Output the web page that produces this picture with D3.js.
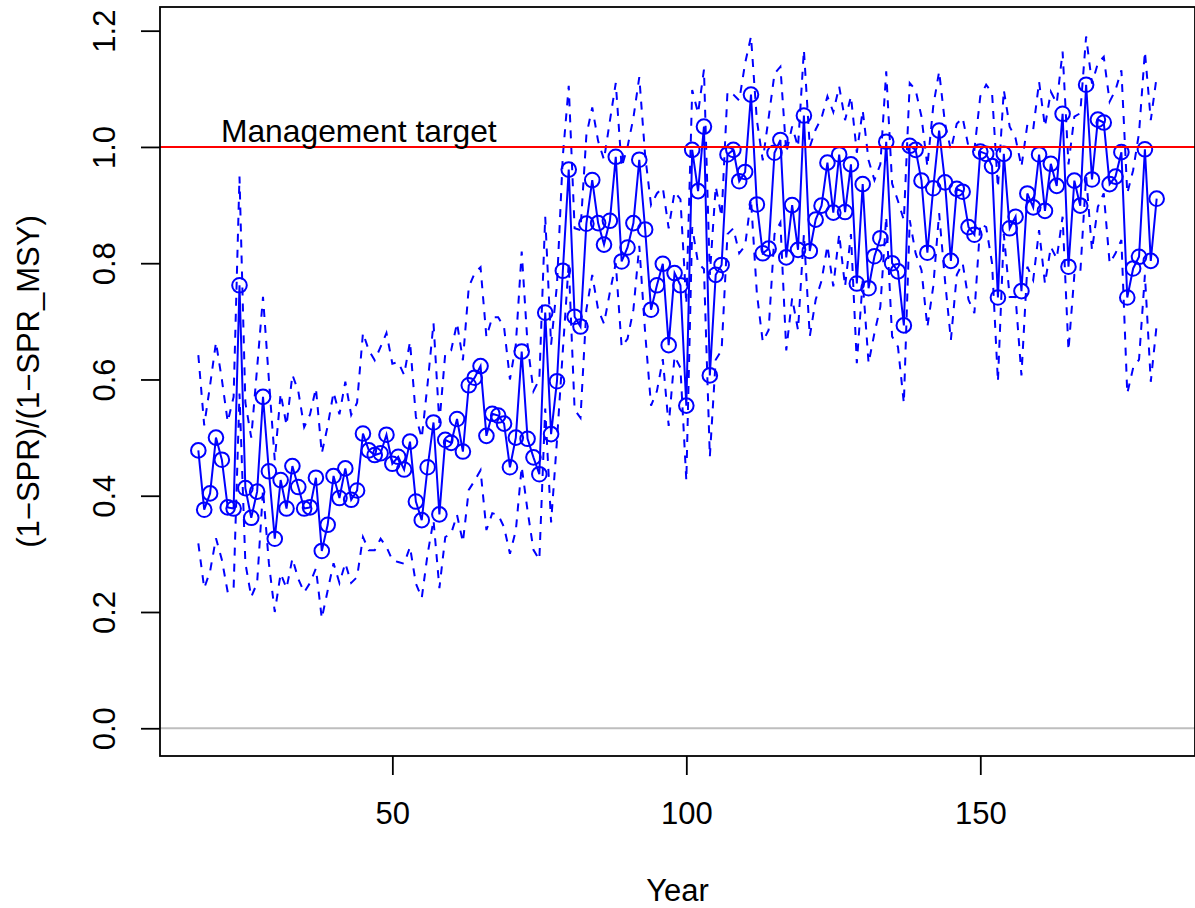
<!DOCTYPE html>
<html><head><meta charset="utf-8">
<script src="https://cdn.jsdelivr.net/npm/d3@7/dist/d3.min.js"></script>
<style>body{margin:0;background:#fff}text{font-family:"Liberation Sans",Arial,sans-serif;fill:#000}</style>
</head><body>
<svg id="c" width="1195" height="908"></svg>
<script>
const years = [17,18,19,20,21,22,23,24,25,26,27,28,29,30,31,32,33,34,35,36,37,38,39,40,41,42,43,44,45,46,47,48,49,50,51,52,53,54,55,56,57,58,59,60,61,62,63,64,65,66,67,68,69,70,71,72,73,74,75,76,77,78,79,80,81,82,83,84,85,86,87,88,89,90,91,92,93,94,95,96,97,98,99,100,101,102,103,104,105,106,107,108,109,110,111,112,113,114,115,116,117,118,119,120,121,122,123,124,125,126,127,128,129,130,131,132,133,134,135,136,137,138,139,140,141,142,143,144,145,146,147,148,149,150,151,152,153,154,155,156,157,158,159,160,161,162,163,164,165,166,167,168,169,170,171,172,173,174,175,176,177,178,179,180];

const ratio = [
0.478,0.376,0.404,0.500,0.462,0.380,0.378,0.762,0.413,0.362,
0.407,0.570,0.442,0.326,0.427,0.378,0.451,0.415,0.378,0.380,
0.431,0.305,0.350,0.434,0.396,0.447,0.393,0.409,0.507,0.478,
0.470,0.473,0.505,0.455,0.467,0.445,0.493,0.390,0.358,0.449,
0.526,0.368,0.496,0.491,0.532,0.476,0.590,0.603,0.623,0.503,
0.541,0.538,0.524,0.449,0.500,0.648,0.498,0.466,0.437,0.715,
0.506,0.597,0.787,0.961,0.708,0.691,0.868,0.943,0.869,0.832,
0.873,0.983,0.803,0.827,0.869,0.978,0.858,0.720,0.762,0.799,
0.659,0.783,0.762,0.555,0.995,0.924,1.035,0.607,0.780,0.797,
0.987,0.995,0.941,0.957,1.090,0.901,0.817,0.825,0.990,1.012,
0.810,0.900,0.823,1.054,0.821,0.875,0.899,0.973,0.887,0.987,
0.888,0.970,0.765,0.936,0.757,0.812,0.843,1.009,0.800,0.786,
0.693,1.002,0.995,0.942,0.818,0.929,1.028,0.939,0.804,0.928,
0.923,0.862,0.849,0.992,0.988,0.967,0.741,0.988,0.860,0.880,
0.752,0.920,0.896,0.987,0.890,0.971,0.933,1.057,0.794,0.942,
0.899,1.107,0.944,1.047,1.042,0.936,0.949,0.991,0.741,0.791,
0.811,0.996,0.804,0.911];

const upper = [
0.642,0.521,0.59,0.664,0.60,0.527,0.57,0.949,0.56,0.50,
0.62,0.742,0.60,0.461,0.576,0.521,0.608,0.58,0.518,0.54,
0.585,0.473,0.52,0.578,0.54,0.596,0.539,0.56,0.68,0.65,
0.633,0.656,0.68,0.627,0.63,0.608,0.665,0.536,0.499,0.593,
0.697,0.525,0.645,0.65,0.697,0.633,0.759,0.783,0.793,0.673,
0.707,0.707,0.69,0.60,0.66,0.82,0.66,0.58,0.60,0.88,
0.66,0.763,0.985,1.105,0.86,0.857,1.02,1.068,1.01,0.978,
1.045,1.11,0.965,1.0,1.05,1.12,0.985,0.90,0.92,0.93,
0.86,0.923,0.91,0.73,1.098,1.058,1.133,0.78,0.932,0.88,
1.095,1.09,1.08,1.144,1.19,1.046,0.977,1.05,1.126,1.138,
0.99,1.035,1.0,1.167,1.0,1.03,1.05,1.087,1.06,1.104,
1.046,1.087,0.99,1.063,0.977,0.943,0.97,1.13,0.937,0.907,
0.874,1.11,1.098,1.052,0.966,1.07,1.13,1.04,0.995,1.04,
1.05,1.0,0.995,1.087,1.107,1.093,0.93,1.098,1.035,1.015,
0.966,1.038,1.03,1.112,1.035,1.095,1.075,1.164,0.97,1.052,
1.058,1.19,1.109,1.144,1.155,1.078,1.098,1.132,0.92,0.96,
1.024,1.164,1.046,1.121];

const lower = [
0.318,0.241,0.27,0.327,0.29,0.234,0.24,0.576,0.284,0.226,
0.25,0.41,0.284,0.20,0.266,0.241,0.292,0.257,0.234,0.25,
0.275,0.189,0.237,0.284,0.25,0.284,0.25,0.26,0.329,0.306,
0.306,0.326,0.312,0.289,0.286,0.283,0.312,0.249,0.224,0.30,
0.358,0.241,0.329,0.335,0.367,0.32,0.41,0.426,0.444,0.341,
0.37,0.367,0.346,0.30,0.34,0.45,0.374,0.307,0.29,0.55,
0.354,0.495,0.65,0.80,0.548,0.534,0.72,0.78,0.72,0.696,
0.75,0.80,0.656,0.67,0.72,0.83,0.68,0.555,0.58,0.635,
0.52,0.64,0.62,0.426,0.862,0.80,0.79,0.467,0.634,0.65,
0.85,0.86,0.817,0.83,0.91,0.748,0.665,0.685,0.85,0.87,
0.65,0.74,0.685,0.85,0.674,0.737,0.77,0.83,0.76,0.85,
0.76,0.85,0.628,0.77,0.628,0.68,0.725,0.88,0.674,0.656,
0.559,0.874,0.817,0.788,0.69,0.76,0.886,0.77,0.668,0.78,
0.8,0.737,0.714,0.868,0.862,0.8,0.596,0.85,0.742,0.742,
0.607,0.794,0.771,0.857,0.765,0.828,0.808,0.88,0.65,0.78,
0.782,0.95,0.822,0.897,0.92,0.8,0.817,0.84,0.576,0.62,
0.634,0.78,0.596,0.694];

const xTicks = [50, 100, 150];
const yTicks = [0, 0.2, 0.4, 0.6, 0.8, 1.0, 1.2];
const targetValue = 1.0;
const targetLabel = "Management target";
const xTitle = "Year";
const yTitle = "(1\u2212SPR)/(1\u2212SPR_MSY)";

const L = 160, R = 1195, T = 7, B = 756;
const FS = 31;

const svg = d3.select("#c");
svg.append("rect").attr("width",1195).attr("height",908).attr("fill","#fff");

const xmin = d3.min(years), xmax = d3.max(years);
const xpad = 0.04*(xmax-xmin);
const x = d3.scaleLinear().domain([xmin-xpad, xmax+xpad]).range([L, R]);
const ymax = 1.193;
const y = d3.scaleLinear().domain([-0.04*ymax, ymax*1.04]).range([B, T]);

// zero reference line
svg.append("line").attr("x1",L).attr("x2",R).attr("y1",y(0)).attr("y2",y(0))
  .attr("stroke","#bebebe").attr("stroke-width",2);

const line = (arr) => d3.line().x((d,i)=>x(years[i])).y(d=>y(d))(arr);

svg.append("path").attr("d", line(upper)).attr("fill","none").attr("stroke","#0000ff")
  .attr("stroke-width",2).attr("stroke-dasharray","8,8");
svg.append("path").attr("d", line(lower)).attr("fill","none").attr("stroke","#0000ff")
  .attr("stroke-width",2).attr("stroke-dasharray","8,8");

svg.append("path").attr("d", line(ratio)).attr("fill","none").attr("stroke","#0000ff")
  .attr("stroke-width",2);
svg.append("g").selectAll("circle").data(ratio).join("circle")
  .attr("cx",(d,i)=>x(years[i])).attr("cy",d=>y(d)).attr("r",7.3)
  .attr("fill","none").attr("stroke","#0000ff").attr("stroke-width",2);

// management target line
svg.append("line").attr("x1",L).attr("x2",R).attr("y1",y(targetValue)).attr("y2",y(targetValue))
  .attr("stroke","#ff0000").attr("stroke-width",2);
svg.append("text").attr("x", x(44.3)).attr("y", y(targetValue)-5)
  .attr("text-anchor","middle").attr("font-size",31.8).text(targetLabel);

// box
svg.append("rect").attr("x",L).attr("y",T).attr("width",R-L).attr("height",B-T)
  .attr("fill","none").attr("stroke","#000").attr("stroke-width",1.8);

// x axis
const xAxis = d3.axisBottom(x).tickValues(xTicks).tickSize(19).tickPadding(27).tickFormat(d3.format("d"));
const gx = svg.append("g").attr("transform",`translate(0,${B})`).call(xAxis);
gx.select(".domain").remove();
gx.selectAll("line").attr("stroke","#000").attr("stroke-width",1.8);
gx.selectAll("text").attr("font-size",FS).attr("font-family","Liberation Sans, Arial, sans-serif").attr("fill","#000");

// y axis
const yAxis = d3.axisLeft(y).tickValues(yTicks).tickSize(19).tickFormat(d3.format(".1f"));
const gy = svg.append("g").attr("transform",`translate(${L},0)`).call(yAxis);
gy.select(".domain").remove();
gy.selectAll("line").attr("stroke","#000").attr("stroke-width",1.8);
gy.selectAll("text")
  .attr("font-size",FS).attr("font-family","Liberation Sans, Arial, sans-serif").attr("fill","#000")
  .attr("x",null).attr("dy",null)
  .attr("text-anchor","middle")
  .attr("transform",`translate(${115-L},0) rotate(-90)`);

// titles
svg.append("text").attr("x",(L+R)/2).attr("y",901).attr("text-anchor","middle")
  .attr("font-size",FS).text(xTitle);
svg.append("text").attr("transform",`translate(39,${(T+B)/2}) rotate(-90)`)
  .attr("text-anchor","middle").attr("font-size",FS).text(yTitle);
</script>
</body></html>
